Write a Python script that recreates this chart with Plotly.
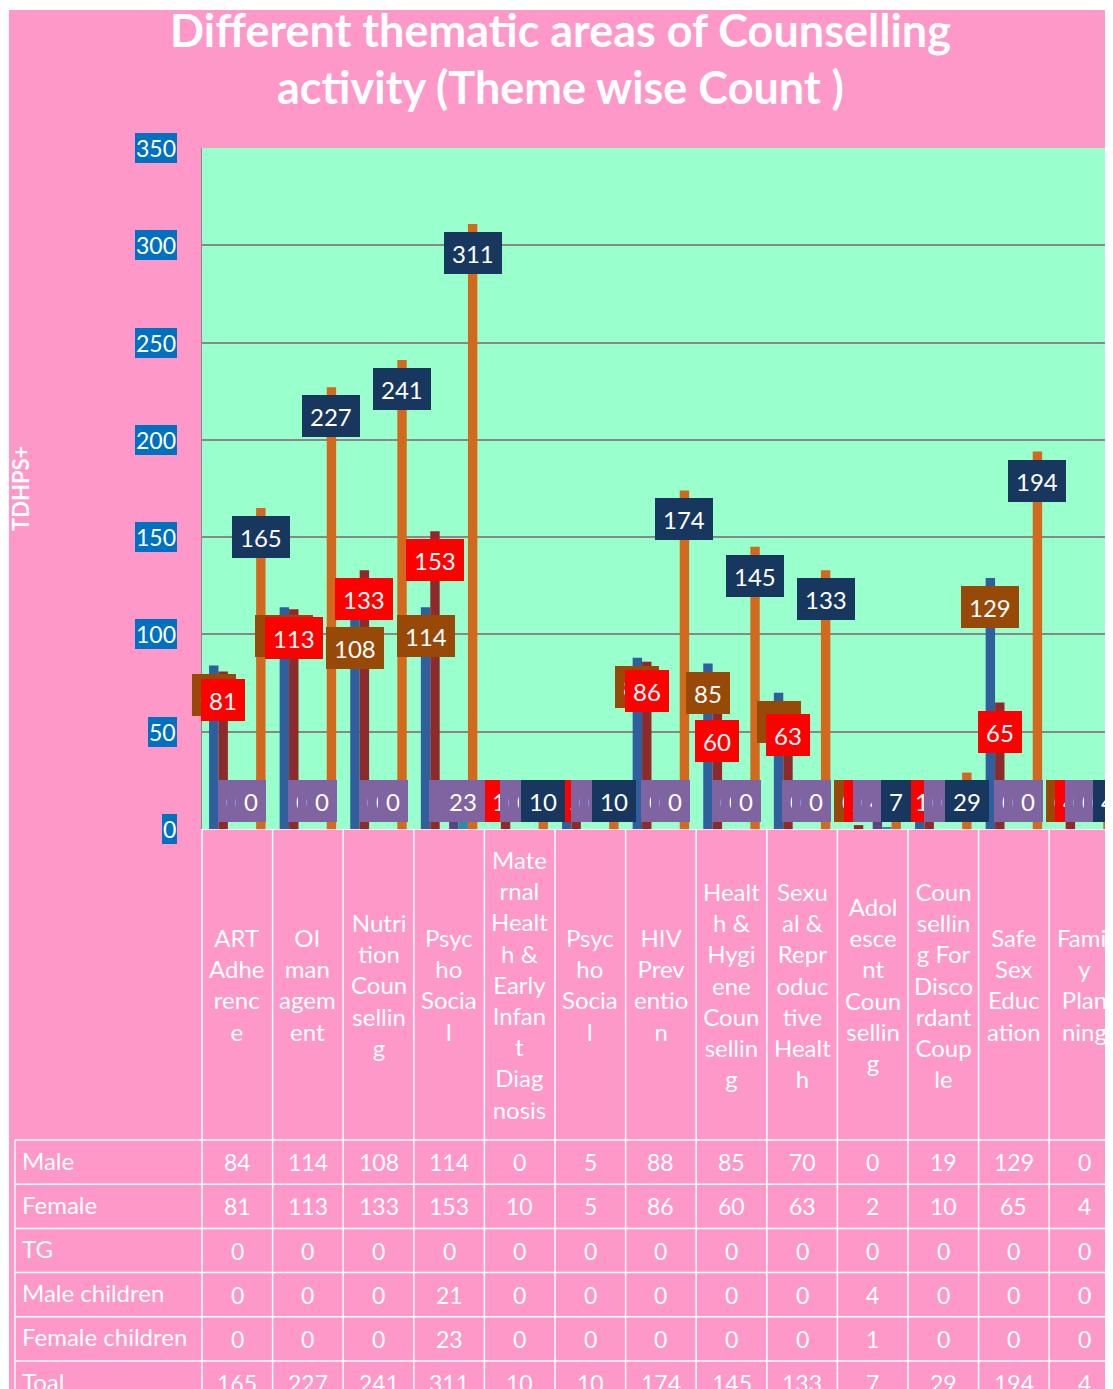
import plotly.graph_objects as go

# ---------------- data ----------------
categories = [
    "ART<br>Adhe<br>renc<br>e",
    "OI<br>man<br>agem<br>ent",
    "Nutri<br>tion<br>Coun<br>sellin<br>g",
    "Psyc<br>ho<br>Socia<br>l",
    "Mate<br>rnal<br>Healt<br>h &<br>Early<br>Infan<br>t<br>Diag<br>nosis",
    "Psyc<br>ho<br>Socia<br>l",
    "HIV<br>Prev<br>entio<br>n",
    "Healt<br>h &<br>Hygi<br>ene<br>Coun<br>sellin<br>g",
    "Sexu<br>al &<br>Repr<br>oduc<br>tive<br>Healt<br>h",
    "Adol<br>esce<br>nt<br>Coun<br>sellin<br>g",
    "Coun<br>sellin<br>g For<br>Disco<br>rdant<br>Coup<br>le",
    "Safe<br>Sex<br>Educ<br>ation",
    "Famil<br>y<br>Plan<br>ning",
]
series_names = ["Male", "Female", "TG", "Male children", "Female children", "Toal"]
male = [84, 114, 108, 114, 0, 5, 88, 85, 70, 0, 19, 129, 0]
female = [81, 113, 133, 153, 10, 5, 86, 60, 63, 2, 10, 65, 4]
tg = [0, 0, 0, 0, 0, 0, 0, 0, 0, 0, 0, 0, 0]
male_children = [0, 0, 0, 21, 0, 0, 0, 0, 0, 4, 0, 0, 0]
female_children = [0, 0, 0, 23, 0, 0, 0, 0, 0, 1, 0, 0, 0]
total = [165, 227, 241, 311, 10, 10, 174, 145, 133, 7, 29, 194, 4]
y_ticks = [0, 50, 100, 150, 200, 250, 300, 350]
title_lines = ["Different thematic areas of Counselling", "activity (Theme wise Count )"]
y_title = "TDHPS+"

series_values = [male, female, tg, male_children, female_children, total]

# ---------------- styles / layout constants (figure pixels) ----------------
# the figure is a little larger than the window; the page crops it at right and bottom
W, H = 1125, 1400
PINK = "#FE98C9"
MINT = "#99FFCC"
GRID = "#888888"
FONT = "Lato"
bar_colors = ["#2F5F9C", "#8E2B2A", "#77933C", "#5B4580", "#2D8CA5", "#D2691C"]
label_bg = ["#984807", "#FF0000", "#8064A2", "#8064A2", "#8064A2", "#17375E"]

PLOT_L, PLOT_T, PLOT_B = 194, 140, 821
COL_W = 70.6
TABLE_L = 7
HEADER_H = 311
ROW_H = 44.2
Y_MAX = 350
BARGAP = 0.2

n = len(categories)
nser = len(series_names)
x_lo = -0.5
x_hi = -0.5 + (W - PLOT_L) / COL_W
x2_lo = -0.5 - PLOT_L / COL_W
row_label_x = -0.5 - (PLOT_L - TABLE_L) / COL_W
y2_top = -HEADER_H / ROW_H
y2_bot = y2_top + (H - PLOT_B) / ROW_H
px_per_unit = (PLOT_B - PLOT_T) / Y_MAX

fig = go.Figure()
xs = list(range(n))
for k, (name, vals) in enumerate(zip(series_names, series_values)):
    fig.add_trace(go.Bar(
        x=xs, y=vals, name=name, xaxis="x", yaxis="y",
        marker=dict(color=bar_colors[k], line=dict(width=0)),
        showlegend=False, hoverinfo="skip",
    ))

annotations = []
shapes = []

# bar data labels (series order, later series drawn on top)
slot = (1 - BARGAP) / nser
for k, vals in enumerate(series_values):
    for i, v in enumerate(vals):
        xpos = i + (k - (nser - 1) / 2) * slot
        if v * px_per_unit - 29 >= 28:
            ypos, ysh = v, -29
        else:
            ypos, ysh = 0, 28
        annotations.append(dict(
            x=xpos, y=ypos, xref="x", yref="y", yshift=ysh,
            text=str(v), showarrow=False, xanchor="center", yanchor="middle",
            font=dict(family=FONT, size=24, color="white"),
            bgcolor=label_bg[k], borderpad=8, borderwidth=0, height=26,
        ))

# y tick labels with blue boxes
for t in y_ticks:
    annotations.append(dict(
        x=169 / W, xref="paper", y=t, yref="y", text=str(t), showarrow=False,
        xanchor="right", yanchor="middle",
        font=dict(family=FONT, size=23, color="white"),
        bgcolor="#0070C0", borderpad=1, borderwidth=0,
    ))

# axis title
annotations.append(dict(
    x=13 / W, y=(H - 481) / H, xref="paper", yref="paper", text=f"<b>{y_title}</b>",
    textangle=-90, showarrow=False, xanchor="center", yanchor="middle",
    font=dict(family=FONT, size=22, color="white"),
))

# chart title
for j, line in enumerate(title_lines):
    annotations.append(dict(
        x=552 / W, y=(H - (22 + 57 * j)) / H, xref="paper", yref="paper",
        text=f"<b>{line}</b>", showarrow=False, xanchor="center", yanchor="middle",
        font=dict(family=FONT, size=45, color="white"),
    ))

# data table: header labels
for i, c in enumerate(categories):
    annotations.append(dict(
        x=i, y=y2_top / 2, xref="x2", yref="y2", text=c, showarrow=False,
        xanchor="center", yanchor="middle", align="center",
        font=dict(family=FONT, size=24, color="white"),
    ))
# data table: rows
for r, (name, vals) in enumerate(zip(series_names, series_values)):
    annotations.append(dict(
        x=row_label_x, y=r + 0.5, xref="x2", yref="y2", text=name, showarrow=False,
        xanchor="left", yanchor="middle", xshift=5, yshift=2,
        font=dict(family=FONT, size=24, color="white"),
    ))
    for i, v in enumerate(vals):
        annotations.append(dict(
            x=i, y=r + 0.5, xref="x2", yref="y2", text=str(v), showarrow=False,
            xanchor="center", yanchor="middle",
            font=dict(family=FONT, size=23, color="white"),
        ))

# table grid lines
line_style = dict(color="white", width=1.5)
shapes.append(dict(type="line", xref="x2", yref="y2", x0=-0.5, x1=x_hi, y0=y2_top, y1=y2_top,
                   line=line_style, layer="above"))
for r in range(nser + 1):
    shapes.append(dict(type="line", xref="x2", yref="y2", x0=row_label_x, x1=x_hi, y0=r, y1=r,
                       line=line_style, layer="above"))
shapes.append(dict(type="line", xref="x2", yref="y2", x0=row_label_x, x1=row_label_x, y0=0, y1=y2_bot,
                   line=line_style, layer="above"))
for i in range(n + 1):
    shapes.append(dict(type="line", xref="x2", yref="y2", x0=i - 0.5, x1=i - 0.5, y0=y2_top, y1=y2_bot,
                       line=line_style, layer="above"))

# plot area background
shapes.append(dict(type="rect", xref="x domain", yref="y domain", x0=0, x1=1, y0=0, y1=1,
                   fillcolor=MINT, line=dict(width=0), layer="below"))
# thin white page border (top and left)
shapes.append(dict(type="rect", xref="paper", yref="paper", x0=0, x1=1 / W, y0=0, y1=1,
                   fillcolor="white", line=dict(width=0), layer="above"))
shapes.append(dict(type="rect", xref="paper", yref="paper", x0=0, x1=1, y0=1 - 2 / H, y1=1,
                   fillcolor="white", line=dict(width=0), layer="above"))

fig.update_layout(
    width=W, height=H, autosize=False,
    margin=dict(l=0, r=0, t=0, b=0),
    paper_bgcolor=PINK, plot_bgcolor=PINK,
    barmode="group", bargap=BARGAP, bargroupgap=0,
    showlegend=False,
    xaxis=dict(domain=[PLOT_L / W, 1], range=[x_lo, x_hi], visible=False, anchor="y"),
    yaxis=dict(domain=[(H - PLOT_B) / H, (H - PLOT_T) / H], range=[0, Y_MAX],
               tickvals=y_ticks, showticklabels=False, showgrid=True, gridcolor=GRID,
               gridwidth=1.5, zeroline=False, showline=True, linecolor=GRID, linewidth=1,
               ticks="", anchor="x"),
    xaxis2=dict(domain=[0, 1], range=[x2_lo, x_hi], visible=False, anchor="y2"),
    yaxis2=dict(domain=[0, (H - PLOT_B) / H], range=[y2_bot, y2_top], visible=False, anchor="x2"),
    annotations=annotations,
    shapes=shapes,
)

fig.write_html("out.html", post_script="document.body.style.overflow='hidden';")
